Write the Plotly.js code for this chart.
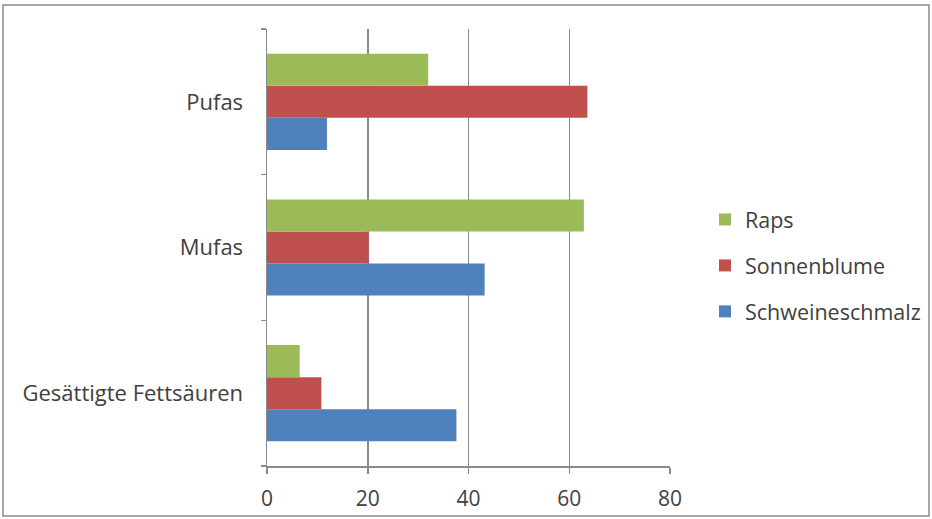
<!DOCTYPE html>
<html><head><meta charset="utf-8">
<script src="https://cdn.plot.ly/plotly-3.0.1.min.js"></script>
<style>html,body{margin:0;padding:0;background:#fff;}#chart{width:932px;height:519px;}</style>
</head><body><div id="chart"></div>
<script>
var categories = ["Gesättigte Fettsäuren", "Mufas", "Pufas"];
var seriesNames = ["Schweineschmalz", "Sonnenblume", "Raps"];
var schweineschmalz = [37.6, 43.2, 11.9];
var sonnenblume = [10.8, 20.2, 63.6];
var raps = [6.5, 62.9, 32.0];
var xTicks = [0, 20, 40, 60, 80];
var colors = ["#4F81BD", "#C0504D", "#9BBB59"];

var values = [schweineschmalz, sonnenblume, raps];
var traces = values.map(function(v, i){
  return {type:"bar", orientation:"h", name:seriesNames[i], x:v, y:categories,
          marker:{color:colors[i]}, legendgroup:"g"+i, legendrank:(3-i)*10};
});

var L=267, R=670, T=29, B=466, W=932, H=519;
function px(x){return (x-L)/(R-L);}
function py(y){return (B-y)/(B-T);}

var layout = {
  width:W, height:H,
  margin:{l:L, r:W-R, t:T, b:H-B, pad:0, autoexpand:false},
  paper_bgcolor:"#fff", plot_bgcolor:"#fff",
  barmode:"group", bargap:0.34, bargroupgap:0,
  font:{family:"'Open Sans', Lato, sans-serif", color:"#404040", size:22},
  xaxis:{range:[0,80], tickvals:xTicks, ticktext:xTicks.map(String),
         showgrid:true, gridcolor:"#8a8a8a", gridwidth:1.5,
         zeroline:false, showline:true, linecolor:"#8a8a8a", linewidth:1.5,
         ticks:"outside", ticklen:6, tickcolor:"#8a8a8a", tickwidth:1.5,
         ticklabelstandoff:7, tickfont:{size:21}, fixedrange:true, automargin:false},
  yaxis:{type:"category", categoryorder:"array", categoryarray:categories,
         showline:true, linecolor:"#8a8a8a", linewidth:1.5,
         ticks:"outside", tickson:"boundaries", ticklen:5, tickcolor:"#8a8a8a", tickwidth:1.5,
         showgrid:false, ticklabelstandoff:18, tickfont:{size:22}, fixedrange:true, automargin:false},
  legend:{x:px(705), y:py(199), xanchor:"left", yanchor:"top",
          traceorder:"grouped", tracegroupgap:15,
          font:{size:21.5, color:"#404040"}, bgcolor:"rgba(0,0,0,0)", itemwidth:30},
  showlegend:true,
  shapes:[{type:"rect", xref:"paper", yref:"paper",
           x0:px(3), x1:px(929), y0:py(516), y1:py(5),
           line:{color:"#8a8a8a", width:1.5}, fillcolor:"rgba(0,0,0,0)", layer:"below"}]
};
Plotly.newPlot("chart", traces, layout, {displayModeBar:false, staticPlot:true});
</script></body></html>
